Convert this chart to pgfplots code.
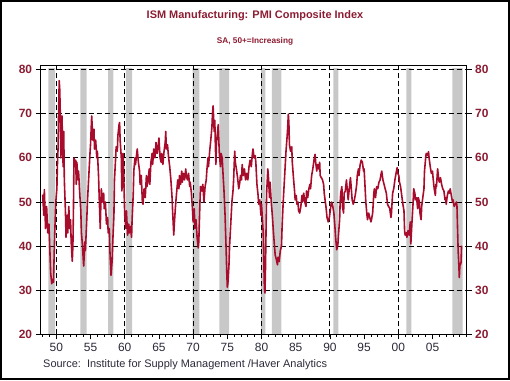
\documentclass[border=0pt]{standalone}
\usepackage{fontspec}
\setmainfont{Liberation Sans}
\usepackage{pgfplots}
\pgfplotsset{compat=1.18}
\usepackage{pgfplotstable}
\definecolor{ttl}{HTML}{8C1C32}
\definecolor{ln}{HTML}{A80C2C}
\definecolor{rec}{HTML}{C8C8C8}
\definecolor{src}{HTML}{2B2B3B}

\pgfplotstableread{
x y
1948.00 51.7
1948.17 47.0
1948.25 52.8
1948.42 44.0
1948.58 49.0
1948.75 43.0
1948.92 45.0
1949.08 38.0
1949.17 34.0
1949.33 31.5
1949.50 32.5
1949.58 31.8
1949.75 42.0
1949.92 50.0
1950.00 51.5
1950.08 53.0
1950.17 59.0
1950.25 62.0
1950.33 70.0
1950.42 77.5
1950.50 75.5
1950.58 70.0
1950.67 60.0
1950.75 68.5
1950.83 69.5
1950.92 62.0
1951.00 58.0
1951.08 66.0
1951.17 55.0
1951.33 48.0
1951.42 42.0
1951.58 47.0
1951.67 43.0
1951.83 49.0
1951.92 44.0
1952.08 46.0
1952.17 41.0
1952.33 36.6
1952.42 40.0
1952.50 48.0
1952.58 60.0
1952.67 58.0
1952.83 59.5
1952.92 54.0
1953.00 59.0
1953.17 55.0
1953.25 57.0
1953.42 52.0
1953.58 48.0
1953.67 43.0
1953.83 40.0
1953.92 37.5
1954.00 35.5
1954.17 41.0
1954.25 39.0
1954.42 45.0
1954.58 51.0
1954.75 56.0
1954.92 61.0
1955.00 63.0
1955.08 66.0
1955.17 69.5
1955.25 67.0
1955.33 64.0
1955.50 66.5
1955.58 62.0
1955.75 64.0
1955.92 60.0
1956.00 61.5
1956.17 56.0
1956.25 52.0
1956.42 44.0
1956.50 49.0
1956.58 53.0
1956.75 50.0
1956.92 52.0
1957.00 48.5
1957.17 50.0
1957.33 45.0
1957.50 46.5
1957.58 43.0
1957.75 44.0
1957.83 39.0
1957.92 36.0
1958.00 33.4
1958.17 37.0
1958.25 41.0
1958.42 47.0
1958.50 55.0
1958.67 60.0
1958.75 62.5
1958.92 61.5
1959.00 65.0
1959.17 67.5
1959.25 68.0
1959.33 64.0
1959.50 60.0
1959.58 52.5
1959.67 55.0
1959.75 61.0
1959.83 58.0
1959.92 52.0
1960.00 47.0
1960.17 44.0
1960.25 48.0
1960.42 42.5
1960.58 45.0
1960.67 43.0
1960.83 44.5
1961.00 42.0
1961.08 46.0
1961.25 52.0
1961.33 57.0
1961.50 60.0
1961.58 58.5
1961.75 61.0
1961.83 62.0
1962.00 59.0
1962.17 57.0
1962.25 54.0
1962.42 56.0
1962.58 50.0
1962.67 49.5
1962.83 53.0
1963.00 51.0
1963.17 56.0
1963.25 53.5
1963.42 55.0
1963.58 57.5
1963.67 54.0
1963.83 59.0
1964.00 61.0
1964.08 58.5
1964.25 62.0
1964.42 60.0
1964.58 63.5
1964.75 61.0
1964.92 63.0
1965.00 64.5
1965.17 60.0
1965.33 59.0
1965.42 61.0
1965.58 58.5
1965.75 61.5
1965.92 63.5
1966.00 66.0
1966.08 62.0
1966.25 63.0
1966.42 60.0
1966.58 58.0
1966.75 55.0
1966.92 51.0
1967.00 48.0
1967.17 42.5
1967.25 45.0
1967.42 49.0
1967.58 52.0
1967.75 55.0
1967.92 53.0
1968.00 56.0
1968.17 54.0
1968.33 57.0
1968.42 54.5
1968.58 56.5
1968.75 55.0
1968.92 57.5
1969.00 56.0
1969.17 55.0
1969.33 56.5
1969.50 53.5
1969.58 54.5
1969.75 52.0
1969.92 48.0
1970.00 45.5
1970.17 48.5
1970.25 44.0
1970.42 46.0
1970.58 42.0
1970.75 39.6
1970.83 41.0
1971.00 50.0
1971.08 53.5
1971.25 52.5
1971.42 54.0
1971.58 50.0
1971.75 53.5
1971.92 55.0
1972.00 57.0
1972.17 60.0
1972.25 58.0
1972.42 61.5
1972.58 64.0
1972.75 67.0
1972.83 70.0
1972.92 71.8
1973.00 69.0
1973.08 66.0
1973.17 68.5
1973.25 63.0
1973.33 58.5
1973.42 63.5
1973.58 66.0
1973.67 67.5
1973.83 61.0
1974.00 58.0
1974.08 61.0
1974.25 60.0
1974.42 55.0
1974.50 53.0
1974.67 47.0
1974.83 39.0
1974.92 34.0
1975.00 30.7
1975.08 31.5
1975.25 36.0
1975.33 40.0
1975.50 45.0
1975.67 50.0
1975.83 52.5
1975.92 55.0
1976.08 61.5
1976.17 59.0
1976.33 57.5
1976.50 55.5
1976.67 53.0
1976.83 54.5
1976.92 56.0
1977.08 55.0
1977.17 58.5
1977.33 56.0
1977.50 57.5
1977.67 55.0
1977.83 56.5
1978.00 55.0
1978.17 58.0
1978.33 59.5
1978.50 58.0
1978.67 61.0
1978.75 62.0
1978.92 60.0
1979.08 60.5
1979.17 59.0
1979.33 54.0
1979.50 51.5
1979.58 49.5
1979.75 50.5
1979.92 47.0
1980.00 49.5
1980.17 45.0
1980.25 43.0
1980.33 37.0
1980.42 30.5
1980.50 29.4
1980.58 35.0
1980.67 44.5
1980.75 52.0
1980.92 57.5
1981.00 56.0
1981.17 51.0
1981.25 54.5
1981.42 50.0
1981.58 47.0
1981.75 43.0
1981.92 39.5
1982.00 38.0
1982.17 37.0
1982.33 35.8
1982.42 37.5
1982.58 36.5
1982.75 39.0
1982.92 40.0
1983.00 44.0
1983.17 50.0
1983.33 54.5
1983.42 57.0
1983.58 61.5
1983.75 65.0
1983.83 67.0
1983.92 69.9
1984.00 68.0
1984.08 63.0
1984.25 61.5
1984.42 62.5
1984.50 59.0
1984.67 55.5
1984.83 52.5
1984.92 50.5
1985.08 51.5
1985.17 49.5
1985.33 50.0
1985.42 48.0
1985.58 47.5
1985.75 49.0
1985.92 51.5
1986.00 50.0
1986.17 52.0
1986.33 50.0
1986.50 49.0
1986.58 52.5
1986.75 51.0
1986.92 53.0
1987.08 54.0
1987.17 53.0
1987.33 56.0
1987.50 57.5
1987.67 59.5
1987.83 60.8
1987.92 59.0
1988.08 57.0
1988.17 58.5
1988.33 57.5
1988.50 59.0
1988.58 56.0
1988.75 55.5
1988.92 55.0
1989.08 54.0
1989.17 52.0
1989.33 50.0
1989.42 49.0
1989.58 46.5
1989.75 45.5
1989.92 46.5
1990.00 47.5
1990.17 49.5
1990.25 50.0
1990.42 49.0
1990.58 47.5
1990.75 44.0
1990.83 42.0
1990.92 40.5
1991.00 39.2
1991.17 40.5
1991.25 42.5
1991.42 46.0
1991.50 50.0
1991.58 52.0
1991.75 53.5
1991.83 49.0
1992.00 47.5
1992.08 52.0
1992.25 52.5
1992.42 55.0
1992.50 53.5
1992.67 50.5
1992.83 53.0
1993.00 55.5
1993.08 54.0
1993.25 50.5
1993.42 49.5
1993.58 50.5
1993.75 52.0
1993.92 54.0
1994.00 56.0
1994.17 57.5
1994.25 56.0
1994.42 58.5
1994.58 59.5
1994.75 59.0
1994.92 57.0
1995.00 57.5
1995.17 52.5
1995.25 50.0
1995.42 47.0
1995.50 46.0
1995.67 47.5
1995.83 46.5
1996.00 45.5
1996.08 46.0
1996.25 47.5
1996.42 52.0
1996.50 53.0
1996.67 51.0
1996.83 53.5
1997.00 53.0
1997.17 54.5
1997.33 55.0
1997.50 56.5
1997.58 57.0
1997.75 55.0
1997.92 54.0
1998.08 53.0
1998.25 52.0
1998.42 49.5
1998.58 49.0
1998.75 48.5
1998.92 46.5
1999.00 47.5
1999.17 52.0
1999.33 53.0
1999.50 55.0
1999.67 56.5
1999.83 57.8
1999.92 56.5
2000.08 56.0
2000.17 54.5
2000.33 53.5
2000.50 51.5
2000.67 49.5
2000.83 48.0
2000.92 43.5
2001.00 42.5
2001.17 43.0
2001.25 42.0
2001.42 43.5
2001.58 42.5
2001.75 45.5
2001.83 40.5
2002.00 45.5
2002.17 50.0
2002.25 53.0
2002.42 52.0
2002.50 50.5
2002.67 51.0
2002.83 48.5
2002.92 51.0
2003.08 50.0
2003.17 47.5
2003.33 46.0
2003.42 49.0
2003.58 51.0
2003.75 53.0
2003.83 57.0
2004.00 60.0
2004.08 61.0
2004.25 60.5
2004.42 61.4
2004.50 60.0
2004.67 58.0
2004.83 56.5
2005.00 57.0
2005.08 55.5
2005.25 53.0
2005.42 51.5
2005.50 54.0
2005.58 53.5
2005.75 57.5
2005.92 55.0
2006.00 54.5
2006.17 55.5
2006.33 54.0
2006.50 53.0
2006.67 52.5
2006.83 50.5
2006.92 51.0
2007.00 49.5
2007.17 51.5
2007.33 52.5
2007.50 52.0
2007.58 53.0
2007.75 51.5
2007.92 50.0
2008.00 50.5
2008.17 49.0
2008.33 49.5
2008.50 50.0
2008.58 49.0
2008.67 43.5
2008.75 38.9
2008.83 36.5
2008.92 32.9
2009.00 35.6
2009.08 35.8
2009.17 36.3
2009.25 40.1
}\pmi

\pgfplotstableread{
x y
1947.70 20
1948.83 80.3
1949.83 20
1953.50 80.3
1954.42 20
1957.58 80.3
1958.33 20
1960.17 80.3
1961.08 20
1969.92 80.3
1970.92 20
1973.83 80.3
1975.25 20
1979.95 80.3
1980.58 20
1981.50 80.3
1982.92 20
1990.50 80.3
1991.25 20
2001.17 80.3
2001.92 20
2007.92 80.3
2009.40 20
2010.00 20
}\rec

\begin{document}
\begin{tikzpicture}
\pgfplotsset{
  common/.style={
    at={(40.6bp,46.5bp)}, anchor=south west,
    scale only axis, width=426.1bp, height=268.7bp,
    xmin=1947.7, xmax=2010, ymin=20, ymax=80.85,
    ytick={20,30,...,80},
    tick align=outside,
    major tick length=5bp, minor tick length=2.5bp,
    /pgf/number format/assume math mode=true,
    yticklabel style={font=\fontsize{12}{14}\selectfont\bfseries, text=ttl},
    every tick/.style={black, line width=0.8bp},
  }
}
\begin{axis}[common, set layers,
  axis line style={black, line width=0.9bp},
  ytick pos=left, xtick pos=left,
  xtick={1950,1955,...,2005},
  xticklabels={50,55,60,65,70,75,80,85,90,95,00,05},
  minor xtick={1948,1949,...,2010},
  xticklabel style={font=\fontsize{12}{14}\selectfont, text=src},
  extra x ticks={1950,1960,...,2000},
  extra x tick labels={},
  extra x tick style={grid=major, major tick length=0pt},
  ymajorgrids,
  grid style={black, line width=0.9bp, dash pattern=on 5bp off 3bp},
]
\addplot[on layer=axis background, fill=rec, draw=none, const plot mark left] table[x=x,y=y] {\rec} \closedcycle;
\addplot[ln, line width=1.6bp, line join=round] table[x=x,y=y] {\pmi};
\end{axis}
\begin{axis}[common,
  axis x line=none, axis y line*=right,
  axis line style={black, line width=0.9bp},
]
\addplot[draw=none] coordinates {(1950,50)};
\end{axis}
\node[text=ttl, font=\fontsize{11}{13}\selectfont\bfseries] at (255bp,365.3bp) {ISM Manufacturing: PMI Composite Index};
\node[text=ttl, font=\fontsize{8.3}{10}\selectfont\bfseries] at (255bp,339.7bp) {SA, 50+=Increasing};
\node[text=src, font=\fontsize{11}{13}\selectfont, anchor=west, inner sep=0pt] at (43bp,16.5bp) {Source:\ \ Institute for Supply Management /Haver Analytics};
\draw[black, line width=2bp] (1bp,2bp) rectangle (508.5bp,380bp);
\path (0,0) rectangle (510bp,381bp);
\end{tikzpicture}
\end{document}
